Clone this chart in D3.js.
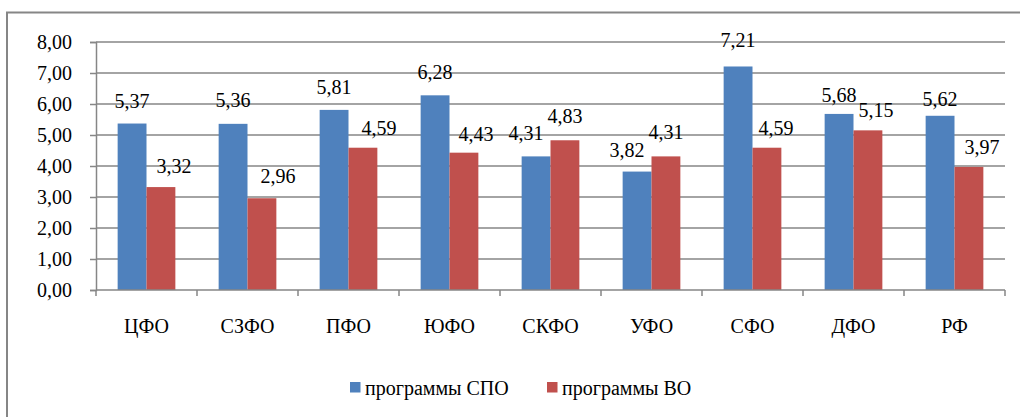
<!DOCTYPE html>
<html>
	<head>
		<meta charset="utf-8">
		<script src="https://d3js.org/d3.v7.min.js"></script>
	</head>
	<body style="margin:0">
		<script type="text/javascript">
			//Data
			var categories = ["ЦФО", "СЗФО", "ПФО", "ЮФО", "СКФО", "УФО", "СФО", "ДФО", "РФ"];
			var seriesNames = ["программы СПО", "программы ВО"];
			var spoValues = [5.37, 5.36, 5.81, 6.28, 4.31, 3.82, 7.21, 5.68, 5.62];
			var voValues = [3.32, 2.96, 4.59, 4.43, 4.83, 4.31, 4.59, 5.15, 3.97];
			var yTicks = [0, 1, 2, 3, 4, 5, 6, 7, 8];

			//Label nudges (the labels were dragged by hand in the original)
			var labelDx = [[0, 0, 0, 0, -10, -10, 0, 0, 0], [13, 16, 16, 12, 0, 0, 9, 8, 13]];
			var labelGap = [[16, 17, 16, 16, 16, 15, 19, 12, 10], [14, 15, 13, 12, 17, 17, 13, 13, 13]];

			var colors = ["#4F81BD", "#C0504D"];
			var gridColor = "#868686";
			var serif = "'Liberation Serif'";

			//Width and height
			var w = 1020;
			var h = 417;

			var svg = d3.select("body")
						.append("svg")
						.attr("width", w)
						.attr("height", h);

			//outer frame, runs off the right and bottom edges
			svg.append("rect")
				.attr("x", 7)
				.attr("y", 12.5)
				.attr("width", 1100)
				.attr("height", 500)
				.attr("fill", "none")
				.attr("stroke", gridColor)
				.attr("stroke-width", 2);

			var comma = d3.formatLocale({decimal: ",", thousands: " ", grouping: [3], currency: ["", ""]}).format(".2f");

			var x0 = d3.scaleBand()
				.domain(categories)
				.range([96, 1005])
				.padding(0);
			var x1 = d3.scaleBand()
				.domain([0, 1])
				.range([0, x0.bandwidth()])
				.paddingInner(0)
				.paddingOuter(0.75);
			var y = d3.scaleLinear()
				.domain([0, 8])
				.range([290, 42]);

			function serifText(sel) {
				sel.attr("font-family", "Liberation Serif")
					.style("font-family", serif)
					.style("font-size", "20px")
					.attr("fill", "#000");
			}

			//gridlines
			svg.append("g")
				.selectAll("line")
				.data(yTicks.slice(1))
				.enter()
				.append("line")
				.attr("x1", 96)
				.attr("x2", 1005)
				.attr("y1", function(d) { return y(d); })
				.attr("y2", function(d) { return y(d); })
				.attr("stroke", gridColor)
				.attr("stroke-width", 1.5);

			//y axis
			var yAxis = svg.append("g")
				.attr("transform", "translate(96,0)")
				.call(d3.axisLeft(y).tickValues(yTicks).tickSize(6).tickPadding(18).tickFormat(comma));
			yAxis.attr("font-family", null).attr("font-size", null);
			yAxis.select(".domain").attr("stroke", gridColor).attr("stroke-width", 1.5);
			yAxis.selectAll(".tick line").attr("stroke", gridColor).attr("stroke-width", 1.5);
			yAxis.selectAll("text").call(serifText);

			//bars
			var all = [spoValues, voValues];
			all.forEach(function(vals, s) {
				svg.append("g")
					.selectAll("rect")
					.data(vals)
					.enter()
					.append("rect")
					.attr("x", function(d, i) { return x0(categories[i]) + x1(s); })
					.attr("y", function(d) { return y(d); })
					.attr("width", x1.bandwidth())
					.attr("height", function(d) { return y(0) - y(d); })
					.attr("fill", colors[s]);

				svg.append("g")
					.selectAll("text")
					.data(vals)
					.enter()
					.append("text")
					.attr("x", function(d, i) { return x0(categories[i]) + x1(s) + x1.bandwidth() / 2 + labelDx[s][i]; })
					.attr("y", function(d, i) { return y(d) - labelGap[s][i]; })
					.attr("text-anchor", "middle")
					.call(serifText)
					.text(function(d) { return comma(d); });
			});

			//x axis
			var xAxisG = svg.append("g");
			xAxisG.append("line")
				.attr("x1", 96).attr("x2", 1005)
				.attr("y1", y(0)).attr("y2", y(0))
				.attr("stroke", gridColor)
				.attr("stroke-width", 1.5);
			var bounds = categories.map(function(c) { return x0(c); }).concat([x0.range()[1]]);
			xAxisG.selectAll(".xt")
				.data(bounds)
				.enter()
				.append("line")
				.attr("x1", function(d) { return d; })
				.attr("x2", function(d) { return d; })
				.attr("y1", y(0))
				.attr("y2", y(0) + 6)
				.attr("stroke", gridColor)
				.attr("stroke-width", 1.5);
			xAxisG.selectAll("text")
				.data(categories)
				.enter()
				.append("text")
				.attr("x", function(d) { return x0(d) + x0.bandwidth() / 2; })
				.attr("y", 333)
				.attr("text-anchor", "middle")
				.call(serifText)
				.text(function(d) { return d; });

			//legend
			var legendX = [350, 547];
			var legend = svg.append("g")
				.selectAll("g")
				.data(seriesNames)
				.enter()
				.append("g")
				.attr("transform", function(d, i) { return "translate(" + legendX[i] + ",382)"; });
			legend.append("rect")
				.attr("width", 10.5)
				.attr("height", 10.5)
				.attr("fill", function(d, i) { return colors[i]; });
			legend.append("text")
				.attr("x", 15)
				.attr("y", 13)
				.call(serifText)
				.text(function(d) { return d; });
		</script>
	</body>
</html>
